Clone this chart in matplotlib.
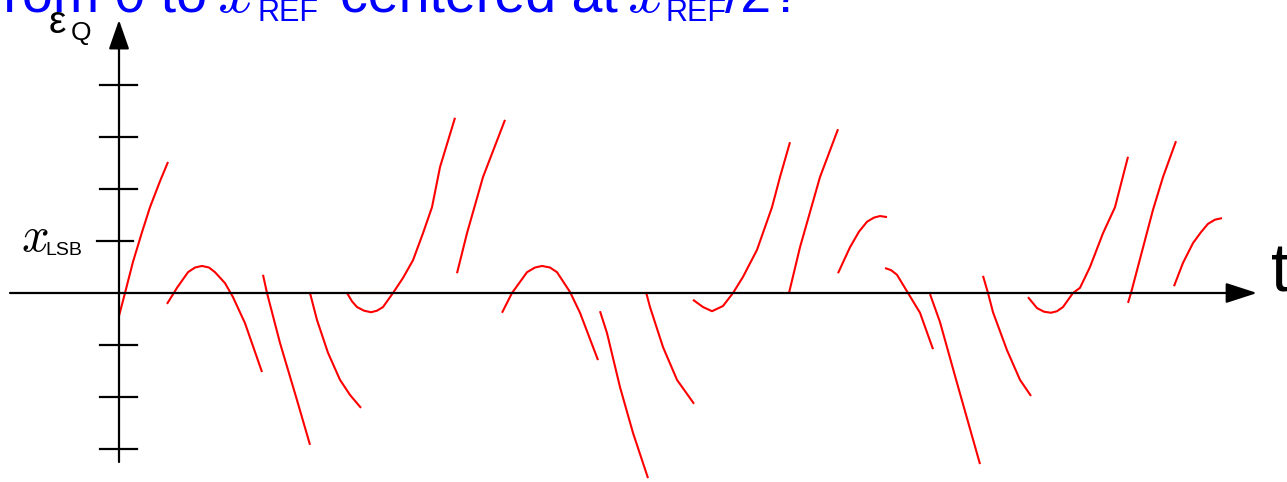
import numpy as np
import matplotlib
matplotlib.use("Agg")
import matplotlib.pyplot as plt

plt.rcParams['font.family'] = ['Liberation Sans', 'DejaVu Sans']
plt.rcParams['mathtext.fontset'] = 'cm'

# quantisation error segments: t (arbitrary units), eps_Q (in LSB)
seg_t = [
    [0, .06, .14, .23, .31, .41, .49],
    [.48, .58, .69, .76, .83, .90, .96, 1.06, 1.14, 1.26, 1.43],
    [1.44, 1.48, 1.61, 1.78, 1.91],
    [1.98, 1.91, 1.98, 2.09, 2.21, 2.31, 2.42],
    [2.27, 2.74],
    [2.28, 2.33, 2.38, 2.45, 2.52, 2.58, 2.64, 2.74, 2.84, 2.94, 3.04, 3.13, 3.21, 3.36],
    [3.38, 3.48, 3.64, 3.86],
    [3.83, 3.93, 4.08, 4.16, 4.23, 4.31, 4.38, 4.51, 4.61, 4.79],
    [4.81, 4.88, 5.01, 5.14, 5.29],
    [5.27, 5.31, 5.44, 5.58, 5.75],
    [5.74, 5.84, 5.93, 6.04, 6.14, 6.24, 6.38, 6.53, 6.61, 6.71],
    [6.70, 6.81, 7.01, 7.19],
    [7.19, 7.31, 7.40, 7.48, 7.55, 7.61, 7.68],
    [7.66, 7.72, 7.78, 7.89, 8.01, 8.14],
    [8.11, 8.21, 8.38, 8.61],
    [8.64, 8.69, 8.74, 8.88, 9.01, 9.12],
    [9.09, 9.18, 9.25, 9.32, 9.38, 9.44, 9.54, 9.61, 9.71, 9.84, 9.96, 10.09],
    [10.09, 10.12, 10.34, 10.44, 10.57],
    [10.55, 10.64, 10.74, 10.82, 10.89, 10.96, 11.03],
]
seg_eps = [
    [-0.44, 0, 0.60, 1.17, 1.65, 2.15, 2.52],
    [-0.21, 0.10, 0.40, 0.49, 0.52, 0.49, 0.40, 0.19, -0.08, -0.58, -1.52],
    [0.35, 0, -0.96, -2.06, -2.92],
    [0, 0, -0.52, -1.15, -1.67, -1.96, -2.21],
    [0, 0],
    [0, -0.16, -0.27, -0.34, -0.37, -0.34, -0.27, 0, 0.29, 0.63, 1.15, 1.65, 2.42, 3.37],
    [0.38, 1.15, 2.23, 3.33],
    [-0.38, 0, 0.40, 0.49, 0.52, 0.49, 0.40, 0.02, -0.38, -1.29],
    [-0.35, -0.77, -1.81, -2.69, -3.56],
    [0.02, -0.27, -1.04, -1.67, -2.13],
    [-0.13, -0.27, -0.35, -0.25, 0, 0.31, 0.83, 1.65, 2.23, 2.90],
    [0, 0.88, 2.23, 3.15],
    [0.38, 0.88, 1.18, 1.37, 1.45, 1.48, 1.46],
    [0.48, 0.44, 0.35, 0, -0.38, -1.08],
    [-0.02, -0.56, -1.73, -3.29],
    [0.33, 0, -0.37, -1.10, -1.67, -1.98],
    [-0.08, -0.29, -0.36, -0.38, -0.35, -0.27, 0, 0.10, 0.50, 1.15, 1.65, 2.62],
    [-0.19, 0, 1.60, 2.23, 2.92],
    [0.13, 0.58, 0.96, 1.17, 1.33, 1.41, 1.44],
]
ticks = [4, 3, 2, 1, -1, -2, -3]

W, H = 1287, 482
fig = plt.figure(figsize=(W / 100, H / 100), dpi=100)
ax = fig.add_axes([0, 0, 1, 1])
ax.set_xlim(-1.19, 11.68)
ax.set_ylim(-(H - 293) / 52, 293 / 52)
ax.axis('off')

# axes with arrows
ax.annotate('', xy=(11.38, 0), xytext=(-1.09, 0),
            arrowprops=dict(arrowstyle='-|>,head_length=0.4,head_width=0.13',
                            mutation_scale=48, lw=1.6, color='k',
                            shrinkA=0, shrinkB=0))
ax.annotate('', xy=(0, 273 / 52), xytext=(0, -169 / 52),
            arrowprops=dict(arrowstyle='-|>,head_length=0.4,head_width=0.14',
                            mutation_scale=45, lw=1.6, color='k',
                            shrinkA=0, shrinkB=0))
for v in ticks:
    x0 = -0.22 if v == 1 else -0.19
    x1 = 0.14 if v == 1 else 0.18
    ax.plot([x0, x1], [v, v], color='k', lw=1.6)

for ts, es in zip(seg_t, seg_eps):
    ax.plot(ts, es, color='red', lw=1.5, solid_capstyle='butt',
            solid_joinstyle='round')


def ftext(px, py, s, **kw):
    fig.text(px / W, 1 - py / H, s, **kw)


# labels
ftext(49, 33, 'ε', fontsize=28, va='baseline')
ftext(71, 40, 'Q', fontsize=19, va='baseline')
ftext(21, 251, r'$x$', fontsize=35, va='baseline')
ftext(45, 255, 'LSB', fontsize=14, va='baseline')
ftext(1271, 292, 't', fontsize=49, va='baseline')

# clipped blue question at the top
blue = '#0000ff'
ftext(-12, 12, 'from 0 to', fontsize=40, color=blue, va='baseline')
ftext(217, 12, r'$x$', fontsize=46, color=blue, va='baseline')
ftext(258, 21, 'REF', fontsize=22, color=blue, va='baseline')
ftext(340, 12, 'centered at', fontsize=40, color=blue, va='baseline')
ftext(627, 12, r'$x$', fontsize=46, color=blue, va='baseline')
ftext(665, 21, 'REF', fontsize=22, color=blue, va='baseline')
ftext(725, 12, '/2?', fontsize=40, color=blue, va='baseline')

fig.savefig('out.png', dpi=100)
